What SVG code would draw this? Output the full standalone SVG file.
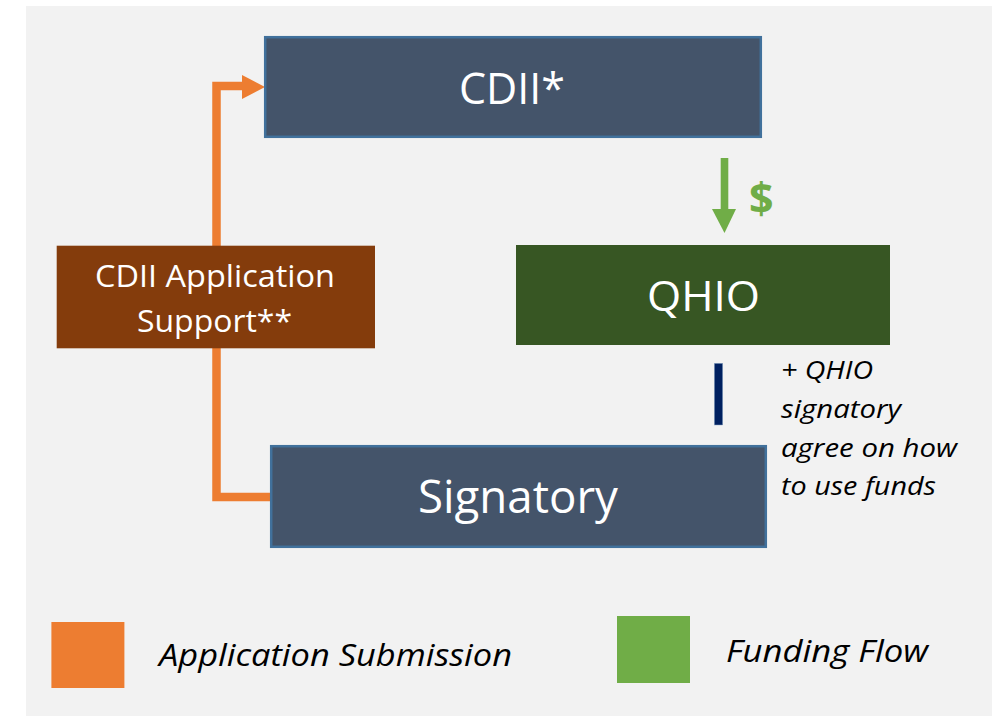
<svg xmlns="http://www.w3.org/2000/svg" width="992" height="716" viewBox="0 0 992 716">
  <style>
    .title { font-family: "Open Sans", "Liberation Sans", sans-serif; fill: #FFFFFF; }
    .note { font-family: "Open Sans", "Liberation Sans", sans-serif; font-style: italic; fill: #000000; }
    .blue { fill: #44546A; stroke: #41719C; stroke-width: 2.5; }
  </style>
  <rect x="26" y="6" width="966" height="710" fill="#F2F2F2"/>

  <g id="connectors">
    <path d="M216.5,246 V86 H243" fill="none" stroke="#ED7D31" stroke-width="8.5"/>
    <polygon points="242,75 265,87 242,99" fill="#ED7D31"/>
    <path d="M216.5,348 V497 H271" fill="none" stroke="#ED7D31" stroke-width="8.5"/>
    <rect x="720.7" y="158" width="7.6" height="52" fill="#70AD47"/>
    <polygon points="712,209 736,209 724.5,233" fill="#70AD47"/>
    <text x="749" y="214" font-family="Open Sans, Liberation Sans, sans-serif" font-weight="bold" font-size="43" fill="#70AD47">$</text>
    <rect x="714.3" y="363.3" width="8.4" height="61.7" fill="#002060" stroke="#8EA9C8" stroke-width="0.5"/>
  </g>

  <g id="cdii">
    <rect class="blue" x="265.2" y="37.2" width="495.6" height="99.6"/>
    <text class="title" x="459" y="104" font-size="43" textLength="106" lengthAdjust="spacingAndGlyphs">CDII*</text>
  </g>

  <g id="support">
    <rect x="56.7" y="245.7" width="318.3" height="102.6" fill="#843C0C"/>
    <text class="title" x="95" y="286.7" font-size="31" textLength="240" lengthAdjust="spacingAndGlyphs">CDII Application</text>
    <text class="title" x="137" y="331.5" font-size="31" textLength="155" lengthAdjust="spacingAndGlyphs">Support**</text>
  </g>

  <g id="qhio">
    <rect x="516" y="245" width="374" height="100" fill="#375623"/>
    <text class="title" x="647" y="311" font-size="42" textLength="113" lengthAdjust="spacingAndGlyphs">QHIO</text>
  </g>

  <g id="signatory">
    <rect class="blue" x="271.2" y="446.2" width="494.6" height="100.6"/>
    <text class="title" x="418" y="513" font-size="45" textLength="200" lengthAdjust="spacingAndGlyphs">Signatory</text>
  </g>

  <g id="note">
    <text class="note" x="781" y="379.3" font-size="25" textLength="92" lengthAdjust="spacingAndGlyphs">+ QHIO</text>
    <text class="note" x="781" y="417.5" font-size="25" textLength="120" lengthAdjust="spacingAndGlyphs">signatory</text>
    <text class="note" x="781" y="456.5" font-size="25" textLength="176" lengthAdjust="spacingAndGlyphs">agree on how</text>
    <text class="note" x="781" y="495" font-size="25" textLength="155" lengthAdjust="spacingAndGlyphs">to use funds</text>
  </g>

  <g id="legend">
    <rect x="51.4" y="622" width="73" height="66" fill="#ED7D31"/>
    <text class="note" x="159" y="666" font-size="31" textLength="353" lengthAdjust="spacingAndGlyphs">Application Submission</text>
    <rect x="617" y="616" width="73" height="67" fill="#70AD47"/>
    <text class="note" x="726" y="662" font-size="31" textLength="202" lengthAdjust="spacingAndGlyphs">Funding Flow</text>
  </g>
</svg>
